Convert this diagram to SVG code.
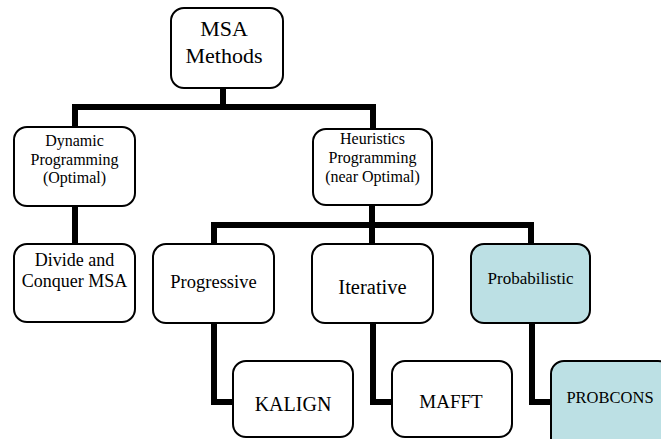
<svg xmlns="http://www.w3.org/2000/svg" width="661" height="439" viewBox="0 0 661 439">
<style>
.box{fill:#fff;stroke:#000;stroke-width:2}
.blue{fill:#bce0e4}
.c{fill:none;stroke:#000;stroke-width:6;stroke-linejoin:miter}
text{fill:#000;text-anchor:middle;font-family:'Times New Roman','Liberation Serif','DejaVu Serif',serif}
</style>
<rect width="661" height="439" fill="#fff"/>
<g id="connectors">
<polyline class="c" points="223,88 223,107"/>
<polyline class="c" points="75,127 75,107 373,107 373,129"/>
<polyline class="c" points="75,206 75,245"/>
<polyline class="c" points="214,244 214,225 531,225 531,244"/>
<polyline class="c" points="372,205 372,244"/>
<polyline class="c" points="214,323 214,402 234,402"/>
<polyline class="c" points="373,323 373,402 393,402"/>
<polyline class="c" points="532,323 532,402 552,402"/>
</g>
<g id="root"><rect class="box" x="171" y="8" width="112" height="80" rx="13"/>
<text x="224" y="36" font-size="22">MSA</text><text x="224" y="63" font-size="22">Methods</text></g>
<g id="dynamic"><rect class="box" x="14" y="127" width="121" height="79" rx="13"/>
<text x="74.5" y="146" font-size="16">Dynamic</text><text x="74.5" y="165" font-size="16">Programming</text><text x="74.5" y="183" font-size="16">(Optimal)</text></g>
<g id="heuristics"><rect class="box" x="313" y="129" width="119" height="76" rx="13"/>
<text x="372.5" y="144" font-size="16">Heuristics</text><text x="372.5" y="163" font-size="16">Programming</text><text x="372.5" y="182" font-size="16">(near Optimal)</text></g>
<g id="divide"><rect class="box" x="14" y="244" width="121" height="78" rx="13"/>
<text x="74.5" y="266" font-size="18">Divide and</text><text x="74.5" y="287" font-size="18">Conquer MSA</text></g>
<g id="progressive"><rect class="box" x="153" y="244" width="121" height="79" rx="13"/>
<text x="213.5" y="288" font-size="18.5">Progressive</text></g>
<g id="iterative"><rect class="box" x="312" y="244" width="121" height="79" rx="13"/>
<text x="372.5" y="294" font-size="20.5">Iterative</text></g>
<g id="probabilistic"><rect class="box blue" x="471" y="244" width="119" height="79" rx="13"/>
<text x="530.5" y="284" font-size="17">Probabilistic</text></g>
<g id="kalign"><rect class="box" x="233" y="361" width="120" height="76" rx="13"/>
<text x="293" y="411" font-size="20">KALIGN</text></g>
<g id="mafft"><rect class="box" x="392" y="361" width="120" height="76" rx="13"/>
<text x="451" y="408" font-size="19">MAFFT</text></g>
<g id="probcons"><rect class="box blue" x="551" y="361" width="120" height="90" rx="13"/>
<text x="610" y="403" font-size="16.5">PROBCONS</text></g>
</svg>
